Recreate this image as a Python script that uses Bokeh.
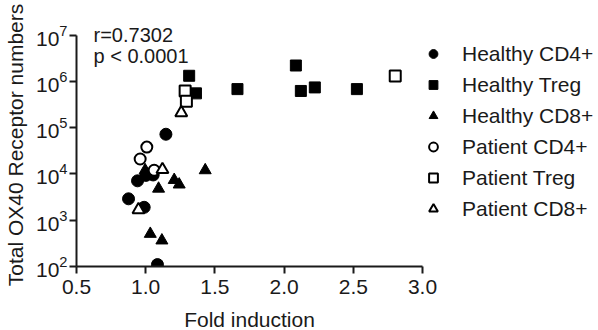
from bokeh.plotting import figure
from bokeh.models import FixedTicker, Legend, LegendItem, Label, NumeralTickFormatter
from bokeh.embed import file_html
from bokeh.resources import INLINE

# ---- data ----
x_ticks = [0.5, 1.0, 1.5, 2.0, 2.5, 3.0]
y_ticks = [1e2, 1e3, 1e4, 1e5, 1e6, 1e7]

hcd4_x = [0.876, 0.941, 1.001, 1.054, 0.989, 1.085, 1.146]
hcd4_y = [2900, 7100, 9300, 9500, 1900, 110, 72000]

htreg_x = [1.314, 1.363, 1.663, 2.085, 2.121, 2.222, 2.526]
htreg_y = [1.32e6, 5.5e5, 6.8e5, 2.2e6, 6.2e5, 7.4e5, 6.8e5]

hcd8_x = [0.996, 1.206, 1.242, 1.093, 1.43, 1.033, 1.117]
hcd8_y = [12000, 7400, 5900, 4800, 12000, 507, 365]

pcd4_x = [1.008, 0.96, 1.061]
pcd4_y = [38000, 21000, 12000]

ptreg_x = [2.803, 1.285, 1.294]
ptreg_y = [1.3e6, 6.2e5, 3.7e5]

pcd8_x = [1.257, 1.121, 0.948]
pcd8_y = [2.1e5, 12400, 1680]

stat_lines = ["r=0.7302", "p < 0.0001"]

FONT = "Liberation Sans"
INK = "#1a1a1a"

p = figure(frame_width=346, frame_height=243, x_range=(0.5, 3.0), y_range=(1e2, 10**7.25),
           y_axis_type="log", output_backend="svg", toolbar_location=None,
           min_border_left=73, min_border_right=0, min_border_top=23,
           min_border_bottom=40)
p.outline_line_color = None
p.xgrid.visible = False
p.ygrid.visible = False
p.background_fill_color = "white"

for ax in (p.xaxis[0], p.yaxis[0]):
    ax.axis_line_width = 2
    ax.axis_line_color = INK
    ax.major_tick_line_width = 2
    ax.major_tick_line_color = INK
    ax.major_tick_in = 0
    ax.major_tick_out = 7
    ax.minor_tick_line_color = None
    ax.major_label_text_font = FONT
    ax.major_label_text_font_size = "21px"
    ax.major_label_text_color = INK
    ax.axis_label_text_font = FONT
    ax.axis_label_text_font_size = "21px"
    ax.axis_label_text_font_style = "normal"
    ax.axis_label_text_color = INK

p.yaxis.bounds = (1e2, 1e7)
p.xaxis.ticker = FixedTicker(ticks=x_ticks)
p.yaxis.ticker = FixedTicker(ticks=y_ticks)
p.xaxis.formatter = NumeralTickFormatter(format="0.0")
p.xaxis.axis_label = "Fold induction"
p.yaxis.axis_label = "Total OX40 Receptor numbers"
p.xaxis.major_label_standoff = 6
p.yaxis.major_label_standoff = 2
p.xaxis.axis_label_standoff = 11
p.yaxis.axis_label_standoff = 6

r1 = p.scatter(hcd4_x, hcd4_y, marker="circle", size=12, fill_color="black", line_color="black")
r2 = p.scatter(htreg_x, htreg_y, marker="square", size=11, fill_color="black", line_color="black")
r3 = p.scatter(hcd8_x, hcd8_y, marker="triangle", size=12, fill_color="black", line_color="black")
r4 = p.scatter(pcd4_x, pcd4_y, marker="circle", size=11, fill_color="white", line_color="black", line_width=2)
r5 = p.scatter(ptreg_x, ptreg_y, marker="square", size=11, fill_color="white", line_color="black", line_width=2)
r6 = p.scatter(pcd8_x, pcd8_y, marker="triangle", size=12, fill_color="white", line_color="black", line_width=2)

legend = Legend(items=[
    LegendItem(label="Healthy CD4+", renderers=[r1]),
    LegendItem(label="Healthy Treg", renderers=[r2]),
    LegendItem(label="Healthy CD8+", renderers=[r3]),
    LegendItem(label="Patient CD4+", renderers=[r4]),
    LegendItem(label="Patient Treg", renderers=[r5]),
    LegendItem(label="Patient CD8+", renderers=[r6]),
], location=(0, 42))
legend.border_line_color = None
legend.background_fill_alpha = 0
legend.padding = 0
legend.margin = 0
legend.spacing = 0
legend.glyph_width = 22
legend.glyph_height = 31
legend.label_height = 31
legend.label_standoff = 18
legend.label_text_font = FONT
legend.label_text_font_size = "21px"
legend.label_text_color = INK
p.add_layout(legend, "right")

p.add_layout(Label(x=0.623, y=10**7.01, text=stat_lines[0], text_font=FONT,
                   text_font_size="20px", text_color=INK, text_baseline="middle"))
p.add_layout(Label(x=0.623, y=10**6.556, text=stat_lines[1], text_font=FONT,
                   text_font_size="20px", text_color=INK, text_baseline="middle"))

open("out.html", "w").write(file_html(p, INLINE))
